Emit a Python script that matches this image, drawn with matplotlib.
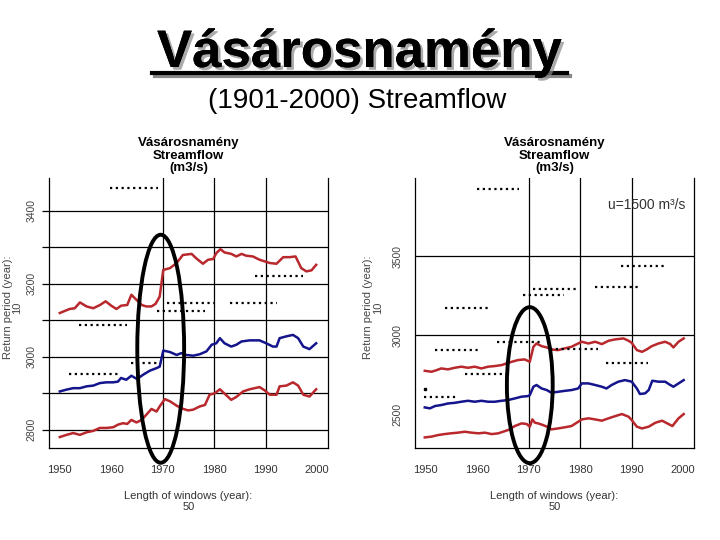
import matplotlib
matplotlib.use('Agg')
import matplotlib.pyplot as plt
from matplotlib.patches import Ellipse
from matplotlib.lines import Line2D
import matplotlib.patheffects as pe

plt.rcParams['font.family'] = ['Liberation Sans', 'DejaVu Sans']

# ---------------- data: left panel ----------------
L_up_years = [1950.0, 1951.9, 1952.9, 1953.9, 1955.2, 1956.5, 1957.8, 1958.9, 1960.0, 1961.0,
              1961.9, 1963.1, 1963.9, 1964.9, 1965.9, 1966.8, 1967.8, 1968.6, 1969.4, 1970.1,
              1971.4, 1972.7, 1973.9, 1975.6, 1976.5, 1977.8, 1978.8, 1979.8, 1980.4, 1981.2,
              1982.0, 1983.3, 1984.3, 1985.3, 1986.2, 1987.5, 1988.8, 1990.8, 1992.1, 1993.4,
              1994.6, 1995.8, 1996.9, 1997.9, 1998.9, 1999.8]
L_up_vals = [3120, 3131, 3133, 3149, 3138, 3133, 3142, 3152, 3140, 3131,
             3140, 3142, 3170, 3156, 3142, 3138, 3138, 3145, 3165, 3238,
             3243, 3257, 3279, 3282, 3270, 3255, 3266, 3268, 3284, 3295,
             3286, 3282, 3275, 3282, 3277, 3275, 3266, 3257, 3255, 3273,
             3273, 3275, 3243, 3234, 3237, 3252]

L_mid_years = [1950.0, 1951.3, 1952.6, 1953.9, 1955.2, 1956.5, 1957.8, 1959.1, 1960.4, 1961.3,
               1961.9, 1962.9, 1963.9, 1965.0, 1966.2, 1967.5, 1968.8, 1969.4, 1970.1, 1971.4,
               1972.7, 1973.6, 1974.6, 1975.9, 1977.2, 1978.5, 1979.5, 1980.4, 1981.1, 1982.0,
               1983.3, 1984.3, 1985.3, 1986.9, 1988.8, 1990.1, 1991.4, 1992.1, 1992.7, 1994.0,
               1995.3, 1996.3, 1997.3, 1998.5, 1999.8]
L_mid_vals = [2905, 2910, 2914, 2914, 2919, 2921, 2928, 2930, 2930, 2932,
              2942, 2937, 2948, 2939, 2951, 2962, 2969, 2973, 3017, 3013,
              3005, 3010, 3005, 3003, 3007, 3015, 3033, 3037, 3051, 3037,
              3028, 3033, 3042, 3045, 3045, 3037, 3028, 3028, 3051, 3056,
              3060, 3051, 3028, 3021, 3037]

L_low_years = [1950.0, 1951.3, 1952.6, 1953.9, 1955.2, 1956.5, 1957.8, 1959.1, 1960.4, 1961.3,
               1962.3, 1963.1, 1963.9, 1964.9, 1965.9, 1966.8, 1967.8, 1968.8, 1969.4, 1970.4,
               1971.4, 1972.7, 1973.6, 1974.9, 1975.9, 1977.2, 1978.2, 1979.1, 1980.1, 1981.1,
               1982.0, 1983.3, 1984.3, 1985.6, 1986.9, 1988.8, 1989.8, 1990.8, 1992.1, 1992.7,
               1994.0, 1995.3, 1996.3, 1997.3, 1998.5, 1999.8]
L_low_vals = [2780, 2786, 2791, 2786, 2793, 2797, 2805, 2805, 2807, 2814,
              2818, 2816, 2827, 2820, 2827, 2841, 2857, 2850, 2864, 2884,
              2878, 2866, 2859, 2853, 2855, 2864, 2868, 2896, 2900, 2911,
              2899, 2882, 2890, 2905, 2911, 2917, 2908, 2896, 2896, 2919,
              2921, 2930, 2921, 2896, 2891, 2911]

# ---------------- data: right panel ----------------
R_up_years = [1949.8, 1951.1, 1952.1, 1953.0, 1954.3, 1955.6, 1956.9, 1958.2, 1959.5, 1960.8,
              1962.1, 1963.4, 1964.7, 1965.7, 1966.7, 1967.9, 1969.2, 1970.2, 1970.6, 1970.9,
              1971.5, 1972.5, 1973.5, 1974.4, 1975.7, 1977.0, 1978.3, 1979.6, 1980.3, 1981.6,
              1982.9, 1984.2, 1985.5, 1986.8, 1988.4, 1989.4, 1990.0, 1991.0, 1992.0, 1992.9,
              1993.9, 1995.2, 1996.5, 1997.5, 1998.1, 1999.1, 2000.1]
R_up_vals = [2774, 2768, 2778, 2789, 2783, 2793, 2800, 2793, 2800, 2789,
             2800, 2804, 2810, 2821, 2831, 2842, 2846, 2831, 2884, 2926,
             2947, 2930, 2922, 2909, 2905, 2916, 2926, 2947, 2958, 2947,
             2958, 2943, 2964, 2973, 2979, 2964, 2951, 2905, 2894, 2909,
             2930, 2947, 2958, 2943, 2922, 2958, 2979]

R_mid_years = [1949.8, 1950.8, 1951.8, 1953.0, 1954.3, 1955.6, 1956.9, 1958.2, 1959.5, 1960.8,
               1962.1, 1963.4, 1964.7, 1966.0, 1967.3, 1968.6, 1969.9, 1970.2, 1970.9, 1971.5,
               1972.5, 1973.5, 1974.4, 1975.7, 1977.0, 1978.3, 1979.6, 1980.3, 1981.6, 1982.9,
               1984.2, 1985.1, 1986.1, 1987.4, 1988.7, 1990.0, 1991.0, 1991.6, 1992.6, 1993.3,
               1994.0, 1995.2, 1996.5, 1997.5, 1998.1, 1999.1, 2000.1]
R_mid_vals = [2542, 2536, 2551, 2557, 2567, 2571, 2578, 2584, 2578, 2584,
              2578, 2578, 2584, 2589, 2599, 2610, 2614, 2620, 2673, 2684,
              2662, 2652, 2635, 2641, 2647, 2652, 2662, 2694, 2694, 2684,
              2673, 2662, 2684, 2705, 2715, 2705, 2662, 2627, 2631, 2652,
              2711, 2705, 2705, 2684, 2673, 2694, 2715]

R_low_years = [1949.8, 1951.1, 1952.4, 1953.6, 1954.9, 1956.2, 1957.6, 1958.9, 1960.2, 1961.5,
               1962.8, 1964.1, 1965.0, 1966.0, 1967.3, 1968.6, 1969.6, 1970.2, 1970.7, 1971.2,
               1971.8, 1972.8, 1973.8, 1974.4, 1975.7, 1977.0, 1978.3, 1979.6, 1980.3, 1981.6,
               1982.9, 1984.2, 1985.5, 1986.8, 1988.1, 1989.4, 1990.0, 1991.0, 1992.0, 1993.3,
               1994.6, 1995.9, 1996.9, 1997.9, 1999.1, 2000.1]
R_low_vals = [2352, 2357, 2367, 2373, 2378, 2382, 2388, 2382, 2378, 2382,
              2373, 2378, 2388, 2399, 2424, 2441, 2437, 2420, 2466, 2445,
              2441, 2430, 2416, 2403, 2409, 2416, 2424, 2451, 2466, 2473,
              2466, 2458, 2473, 2487, 2500, 2483, 2462, 2420, 2409, 2420,
              2445, 2458, 2441, 2424, 2473, 2500]

# garbled dotted labels (value, year start, year end)
L_dots = [(3463, 1959.7, 1969.0), (3222, 1987.9, 1997.2), (3148, 1970.8, 1980.1),
          (3148, 1983.0, 1992.1), (3126, 1968.8, 1978.2), (3088, 1953.7, 1963.0),
          (2984, 1963.8, 1969.0), (2953, 1951.8, 1961.3)]
R_dots = [(3924, 1959.9, 1968.1), (3437, 1987.9, 1996.5), (3304, 1982.9, 1991.2),
          (3291, 1970.8, 1979.6), (3253, 1968.9, 1976.8), (3171, 1953.7, 1962.3),
          (2956, 1963.8, 1972.4), (2905, 1951.8, 1960.1), (2911, 1974.1, 1983.5),
          (2823, 1985.0, 1993.2), (2753, 1957.6, 1966.1), (2608, 1949.6, 1956.2)]
R_single_dot = (1949.8, 2658)

x_ticks = [1950, 1960, 1970, 1980, 1990, 2000]
x_grid = [1970, 1980, 1990]
L_yticks = [2800, 3000, 3200, 3400]
L_ygrid = [2800, 2900, 3000, 3100, 3200, 3300, 3400]
R_yticks = [2500, 3000, 3500]
R_ygrid = [3000, 3500]

RED = '#b8282c'
BLUE = '#14148c'

fig = plt.figure(figsize=(7.2, 5.4), dpi=100)

# Main title with shadow and underline
shadow = [pe.withSimplePatchShadow(offset=(2, -2), shadow_rgbFace='#888888', alpha=0.7), pe.Normal()]
fig.text(0.499, 1 - 67 / 540, 'Vásárosnamény', ha='center', va='baseline', fontsize=38,
         fontweight='bold', color='black', path_effects=shadow)
fig.add_artist(Line2D([152 / 720 + 0.004, 567 / 720 + 0.004], [1 - 76 / 540, 1 - 76 / 540],
                      transform=fig.transFigure, color='#888888', lw=3))
fig.add_artist(Line2D([152 / 720, 567 / 720], [1 - 73 / 540, 1 - 73 / 540],
                      transform=fig.transFigure, color='black', lw=3))
fig.text(0.496, 1 - 108 / 540, '(1901-2000) Streamflow', ha='center', va='baseline',
         fontsize=20, color='black')


def make_panel(rect, ylim, yticks, ygrid, series, dots, ell, left_ticks):
    ax = fig.add_axes(rect)
    ax.set_xlim(1947.9, 2002.1)
    ax.set_ylim(*ylim)
    for g in ygrid:
        ax.axhline(g, color='black', lw=0.9, zorder=1)
    for g in x_grid:
        ax.axvline(g, color='black', lw=0.9, zorder=1)
    for xs, ys, c in series:
        ax.plot(xs, ys, color=c, lw=1.8, zorder=3, solid_joinstyle='round')
    for v, a, b in dots:
        ax.hlines(v, a, b, colors='black', lw=1.6, linestyles=[(0, (1, 1.6))], zorder=4)
    e = Ellipse(ell[0], ell[1], ell[2], fill=False, edgecolor='black', lw=2.8,
                clip_on=False, zorder=5)
    ax.add_patch(e)
    ax.spines['top'].set_visible(False)
    for s in ['left', 'right', 'bottom']:
        ax.spines[s].set_linewidth(0.9)
    ax.set_xticks(x_ticks)
    ax.set_xticklabels([str(t) for t in x_ticks], fontsize=8, color='#333333')
    ax.tick_params(axis='x', length=0, pad=12)
    ax.set_yticks(yticks)
    ax.set_yticklabels([str(t) for t in yticks], fontsize=7.5, color='#444444',
                       rotation=90, va='center')
    if left_ticks:
        ax.set_yticks(ygrid, minor=True)
        ax.tick_params(axis='y', which='both', length=5, width=0.9, pad=4)
    else:
        ax.tick_params(axis='y', length=0, pad=9)
    ax.set_title('Vásárosnamény\nStreamflow\n(m3/s)', fontsize=9.5, fontweight='bold',
                 linespacing=1.05, pad=5)
    ax.set_xlabel('Length of windows (year):\n50', fontsize=8, color='#333333', linespacing=1.1)
    ax.xaxis.set_label_coords(0.5, -0.16)
    ax.set_ylabel('Return period (year):\n10', fontsize=8, color='#444444', linespacing=0.95)
    return ax


axL = make_panel([49 / 720, 1 - 448 / 540, 279 / 720, 270 / 540], (2750, 3490),
                 L_yticks, L_ygrid,
                 [(L_up_years, L_up_vals, RED), (L_mid_years, L_mid_vals, BLUE),
                  (L_low_years, L_low_vals, RED)],
                 L_dots, ((1969.6, 3022), 9.1, 625), True)
axL.yaxis.set_label_coords(-0.095, 0.52)

axR = make_panel([415 / 720, 1 - 448 / 540, 279 / 720, 270 / 540], (2285, 3995),
                 R_yticks, R_ygrid,
                 [(R_up_years, R_up_vals, RED), (R_mid_years, R_mid_vals, BLUE),
                  (R_low_years, R_low_vals, RED)],
                 R_dots, ((1970.2, 2683), 8.9, 988), False)
axR.yaxis.set_label_coords(-0.115, 0.52)
axR.plot([R_single_dot[0]], [R_single_dot[1]], marker='s', ms=2, color='black', zorder=4)
axR.text(0.97, 0.9, 'u=1500 m³/s', transform=axR.transAxes, ha='right', va='center',
         fontsize=10, color='#333333')

fig.savefig('out.png', dpi=100)
